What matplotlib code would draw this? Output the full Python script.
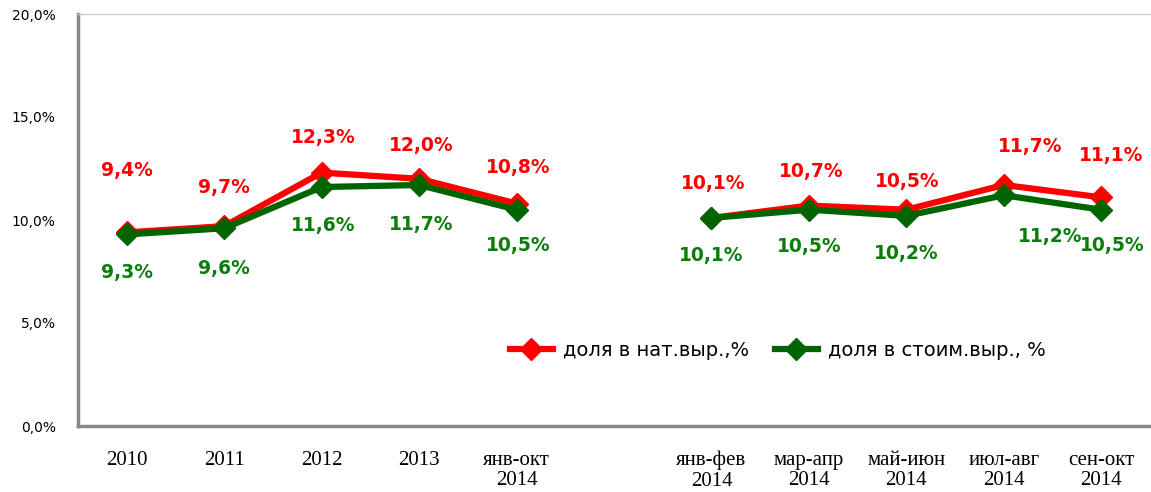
import numpy as np
import matplotlib.pyplot as plt

# категории по оси X (пустая позиция - разрыв между годами и периодами 2014)
categories = ['2010', '2011', '2012', '2013', 'янв-окт\n2014', '',
              'янв-фев\n2014', 'мар-апр\n2014', 'май-июн\n2014', 'июл-авг\n2014', 'сен-окт\n2014']

# доля в нат.выр., %
share_nat = [9.4, 9.7, 12.3, 12.0, 10.8, np.nan, 10.1, 10.7, 10.5, 11.7, 11.1]
# доля в стоим.выр., %
share_cost = [9.3, 9.6, 11.6, 11.7, 10.5, np.nan, 10.1, 10.5, 10.2, 11.2, 10.5]

# смещения подписей (пиксели)
offs_nat = [(0, 62), (0, 39), (2, 35), (2, 33), (2, 36), None, (2, 34), (2, 34), (1, 28), (26, 38), (10, 42)]
offs_cost = [(0, -38), (0, -40), (2, -38), (2, -40), (2, -36), None, (0, -38), (0, -37), (0, -38), (46, -41), (11, -36)]

red = '#ff0000'
green = '#006400'
green_txt = '#0a7d0a'

fig = plt.figure(figsize=(11.51, 4.92), dpi=100)
ax = fig.add_axes([78 / 1151, (492 - 426) / 492, 1072 / 1151, 412 / 492])

x = np.arange(len(categories))
ax.plot(x, share_nat, color=red, lw=4.5, marker='D', ms=11, label='доля в нат.выр.,%', zorder=3)
ax.plot(x, share_cost, color=green, lw=4.5, marker='D', ms=11, label='доля в стоим.выр., %', zorder=4)

def fmt(v):
    return f'{v:.1f}%'.replace('.', ',')

for i in range(len(categories)):
    if offs_nat[i] is not None:
        ax.annotate(fmt(share_nat[i]), (x[i], share_nat[i]), xytext=offs_nat[i],
                    textcoords='offset pixels', ha='center', va='center',
                    color=red, fontsize=13.5, fontweight='bold')
    if offs_cost[i] is not None:
        ax.annotate(fmt(share_cost[i]), (x[i], share_cost[i]), xytext=offs_cost[i],
                    textcoords='offset pixels', ha='center', va='center',
                    color=green_txt, fontsize=13.5, fontweight='bold')

ax.set_xlim(-0.5, len(categories) - 0.5)
ax.set_ylim(0, 20)
ax.set_yticks([0, 5, 10, 15, 20])
ax.set_yticklabels([fmt(v) for v in [0, 5, 10, 15, 20]], fontsize=10)
ax.set_xticks(x)
ax.set_xticklabels(categories, fontsize=15, family='Liberation Serif', linespacing=1.1)
ax.tick_params(axis='both', length=0)
ax.tick_params(axis='y', pad=16)
ax.tick_params(axis='x', pad=18)

for s in ['left', 'bottom']:
    ax.spines[s].set_color('#888888')
    ax.spines[s].set_linewidth(2.5)
ax.spines['right'].set_visible(False)
ax.spines['top'].set_color('#cccccc')
ax.spines['top'].set_linewidth(1)

ax.legend(loc='center left', bbox_to_anchor=(0.403, 0.184), ncol=2, frameon=False,
          fontsize=14, handlelength=2.2, columnspacing=1.3, handletextpad=0.55,
          borderpad=0, borderaxespad=0)

fig.savefig('out.png', dpi=100)
